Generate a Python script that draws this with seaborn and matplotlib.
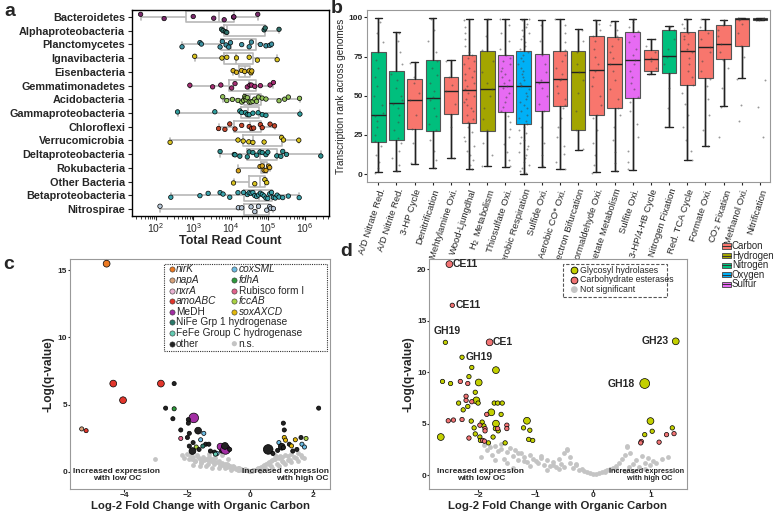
import numpy as np
import pandas as pd
import seaborn as sns
import matplotlib.pyplot as plt
from matplotlib.patches import Rectangle
from matplotlib.lines import Line2D

# ---------------- panel a : read counts per taxon (log10 of counts) -------------
a_taxa = ['Bacteroidetes', 'Alphaproteobacteria', 'Planctomycetes',
          'Ignavibacteria', 'Eisenbacteria', 'Gemmatimonadetes',
          'Acidobacteria', 'Gammaproteobacteria', 'Chloroflexi',
          'Verrucomicrobia', 'Deltaproteobacteria', 'Rokubacteria',
          'Other Bacteria', 'Betaproteobacteria', 'Nitrospirae']
a_colors = ['#7a2a6c', '#2f6f68', '#3e93a3', '#d8c21e', '#d8b21e',
            '#a42d72', '#93c35a', '#2f9c9c', '#c4452b', '#d8c21e',
            '#2e9191', '#d9a61f', '#d8c21e', '#3aa2ab', '#b9c9d9']
a_log_counts = [
    [1.59, 2.22, 3.0, 3.55, 3.83, 4.08, 4.09, 4.73],
    [3.76, 3.80, 3.86, 3.90, 4.90, 4.93, 5.30],
    [2.70, 3.18, 3.22, 3.72, 3.78, 3.88, 3.95, 4.0, 4.3, 4.5, 4.56, 4.8, 4.95, 5.05, 5.1],
    [3.04, 3.77, 3.9, 4.16, 4.5, 4.72, 5.25],
    [4.07, 4.16, 4.3, 4.38, 4.5, 4.55, 4.57],
    [2.91, 3.52, 3.74, 4.03, 4.12, 4.45, 4.52, 4.56, 4.65, 4.8, 5.06, 5.15],
    [3.79, 3.9, 4.05, 4.2, 4.3, 4.35, 4.38, 4.4, 4.42, 4.45, 4.5, 4.55,
     4.6, 4.65, 4.7, 4.75, 4.85, 4.95, 5.3, 5.45, 5.55, 5.85],
    [2.58, 3.58, 4.25, 4.3, 4.4, 4.45, 4.5, 4.6, 4.74, 4.85, 4.95, 5.86],
    [3.68, 3.85, 3.98, 4.12, 4.3, 4.5, 4.57, 4.62, 4.8, 4.85, 5.06, 5.18],
    [2.38, 4.2, 4.34, 4.49, 4.6, 4.9, 5.37, 5.42, 5.83],
    [3.72, 4.1, 4.12, 4.25, 4.45, 4.5, 4.6, 4.7, 4.79, 4.85, 4.95, 5.0,
     5.24, 5.35, 5.4, 5.5, 6.42],
    [4.21, 4.79, 4.85, 4.9, 4.95, 5.02, 5.05],
    [4.08, 4.65, 4.92, 4.97],
    [2.4, 3.18, 3.4, 3.72, 3.8, 3.98, 4.2, 4.35, 4.45, 4.5, 4.55, 4.6, 4.65,
     4.7, 4.75, 4.8, 4.85, 4.9, 4.95, 5.0, 5.05, 5.1, 5.15, 5.2, 5.25, 5.3,
     5.4, 5.55, 5.84],
    [2.11, 4.21, 4.3, 4.55, 4.65, 4.75, 4.97, 5.05, 5.08, 5.15],
]

# ---------------- panel b : transcription rank per pathway ----------------------
b_cats = ['A/D Nitrate Red.', 'A/D Nitrite Red.', '3-HP Cycle',
          'Denitrification', 'Mehtylamine Oxi.', 'Wood-Ljungdhal',
          'H$_2$ Metabolism', 'Thiosulfate Oxi.', 'Aerobic Respiration',
          'Sulfide Oxi.', 'Aerobic CO* Oxi.', 'Electron Bifurcation',
          'Formaldehyde Oxi.', 'Acetate Metabolism', 'Sulfite Oxi.',
          '3-HP/4-HB Cycle', 'Nitrogen Fixation', 'Red. TCA Cycle',
          'Formate Oxi.', 'CO$_2$ Fixation', 'Methanol Oxi.', 'Nitrification']
b_element = ['Nitrogen', 'Nitrogen', 'Carbon', 'Nitrogen', 'Carbon', 'Carbon',
             'Hydrogen', 'Sulfur', 'Oxygen', 'Sulfur', 'Carbon', 'Hydrogen',
             'Carbon', 'Carbon', 'Sulfur', 'Carbon', 'Nitrogen', 'Carbon',
             'Carbon', 'Carbon', 'Carbon', 'Nitrogen']
b_q1 = [20.8, 22.0, 28.8, 27.5, 38.1, 32.4, 27.5, 39.6, 32.2, 40.0, 43.4,
        28.0, 37.9, 42.0, 48.7, 66.1, 64.4, 56.8, 61.4, 73.5, 81.6, 98.1]
b_med = [37.7, 45.6, 47.2, 48.3, 53.0, 53.6, 54.4, 56.0, 56.0, 58.5, 61.0,
         65.0, 66.5, 70.1, 72.7, 73.3, 75.2, 78.4, 80.9, 83.0, 98.9, 98.7]
b_q3 = [78.0, 65.7, 61.0, 72.7, 61.9, 75.8, 78.8, 75.8, 78.8, 76.7, 78.8,
        78.8, 87.9, 87.5, 90.7, 79.0, 92.2, 90.5, 92.2, 95.1, 99.6, 99.4]
b_lo = [1.5, 2.3, 6.6, 4.2, 10.0, 3.0, 5.0, 4.7, 0.4, 4.7, 3.2, 15.7, 1.3,
        2.1, 2.8, 63.8, 30.0, 9.1, 18.0, 43.4, 61.2, 98.0]
b_hi = [99.6, 90.7, 71.4, 99.6, 72.5, 98.7, 99.2, 99.2, 99.2, 98.5, 99.2,
        92.4, 98.5, 97.5, 99.2, 86.2, 94.7, 99.2, 99.2, 98.5, 99.6, 99.6]
b_jitter = [
    [1, 4, 8, 12, 18, 21, 25, 30, 34, 37, 39, 44, 50, 56, 62, 68, 73, 78, 84, 90, 97],
    [2, 6, 10, 15, 20, 23, 28, 33, 38, 42, 45, 47, 50, 55, 60, 64, 70, 78, 85, 90],
    [7, 20, 29, 38, 47, 52, 58, 62, 71],
    [4, 9, 15, 22, 28, 32, 37, 42, 47, 49, 53, 58, 63, 68, 72, 78, 85, 92, 99],
    [10, 30, 38, 45, 53, 57, 62, 72],
    [3, 6, 9, 12, 15, 18, 21, 24, 27, 30, 33, 35, 38, 40, 42, 44, 46, 48, 50,
     52, 54, 56, 58, 60, 62, 64, 66, 68, 70, 72, 74, 76, 78, 82, 86, 90, 94, 98],
    [5, 12, 20, 28, 35, 42, 50, 54, 58, 65, 72, 79, 88, 99],
    [5, 9, 14, 19, 24, 29, 33, 37, 40, 43, 46, 49, 52, 55, 56, 58, 60, 62, 64,
     66, 68, 70, 72, 74, 76, 80, 85, 90, 95, 99],
    [0.5, 2, 4, 6, 8, 10, 12, 14, 16, 18, 20, 22, 24, 26, 28, 30, 32, 34, 36,
     38, 40, 42, 44, 46, 48, 50, 52, 54, 56, 57, 58, 60, 62, 64, 66, 68, 70,
     72, 74, 76, 78, 80, 82, 84, 86, 88, 90, 92, 94, 96, 98, 99],
    [5, 12, 20, 30, 40, 45, 50, 55, 58, 60, 65, 70, 76, 85, 95],
    [3, 8, 13, 18, 24, 30, 36, 42, 44, 48, 52, 56, 60, 61, 64, 68, 72, 76, 79,
     84, 90, 95, 99],
    [16, 28, 40, 52, 60, 65, 70, 78, 85, 92],
    [1, 6, 12, 20, 28, 36, 38, 44, 50, 56, 62, 66, 70, 75, 80, 85, 88, 92, 96, 98],
    [2, 7, 14, 22, 30, 38, 42, 48, 54, 60, 66, 70, 74, 78, 82, 86, 88, 92, 95, 97],
    [3, 8, 15, 24, 32, 40, 46, 49, 54, 58, 62, 66, 70, 73, 76, 80, 84, 88, 91,
     94, 97, 99],
    [64, 68, 72, 74, 78, 82, 86],
    [30, 42, 55, 64, 70, 75, 80, 86, 92, 94],
    [9, 15, 22, 30, 38, 45, 52, 57, 62, 66, 70, 74, 78, 80, 83, 86, 88, 90, 93, 96, 99],
    [18, 28, 38, 48, 56, 61, 66, 72, 78, 81, 86, 90, 94, 99],
    [24, 43, 55, 68, 73, 78, 83, 88, 92, 95, 98],
    [34, 44, 61, 75, 82, 90, 96, 98, 99, 99.5],
    [24, 43, 60, 98.2, 98.6, 98.9, 99.2, 99.5],
]
element_colors = {'Carbon': '#F8766D', 'Hydrogen': '#A3A500',
                  'Nitrogen': '#00BF7D', 'Oxygen': '#00B0F6', 'Sulfur': '#E76BF3'}

# ---------------- panel c : volcano of marker genes -----------------------------
c_gene = ['nirK', 'amoABC', 'amoABC', 'amoABC', 'napA', 'amoABC', 'other',
          'other', 'fdhA', 'other', 'MeDH', 'other', 'other', 'other', 'other',
          'other', 'Rubisco form I', 'other', 'other', 'other', 'coxSML',
          'coxSML', 'fccAB', 'other', 'other', 'other', 'other', 'other',
          'other', 'other', 'coxSML', 'MeDH', 'MeDH', 'other', 'other',
          'NiFe Grp 1 hydrogenase', 'FeFe Group C hydrogenase',
          'other', 'other', 'other', 'other', 'other', 'other', 'soxAXCD',
          'coxSML', 'other', 'other', 'soxAXCD', 'other', 'soxAXCD', 'other',
          'soxAXCD', 'other', 'other', 'coxSML', 'coxSML', 'fccAB', 'other']
c_lfc = [-4.55, -4.34, -2.83, -4.03, -5.34, -5.20, -2.41, -2.68, -2.41, -2.45,
         -1.79, -1.96, -1.96, -2.20, -1.93, -1.65, -2.20, -1.99, -1.93, -1.81,
         -1.47, -1.57, -1.71, -1.41, -1.31, -1.62, -1.83, -1.26, -1.13, -0.91,
         -1.05, -0.94, -0.78, -0.80, -0.65, -1.50, -1.10,
         0.57, 0.72, 0.87, 0.98, 1.05, 1.08, 1.08, 0.91, 1.00, 1.05, 1.12, 1.24,
         1.31, 1.35, 1.43, 1.48, 1.61, 1.64, 1.72, 1.77, 2.17]
c_q = [15.5, 6.56, 6.56, 5.32, 3.18, 3.05, 6.56, 4.73, 4.68, 3.94, 4.0, 3.87,
       3.61, 3.10, 2.85, 3.05, 2.47, 2.54, 1.90, 2.16, 2.85, 2.37, 1.83, 2.04,
       2.04, 1.65, 1.53, 1.53, 1.45, 1.53, 1.35, 1.86, 1.65, 1.91, 1.65, 1.90,
       1.30, 1.65, 1.35, 1.58, 1.91, 3.61, 3.10, 2.54, 2.16, 1.85, 1.78, 2.34,
       2.04, 1.91, 1.53, 2.37, 1.65, 2.54, 2.04, 1.83, 2.47, 4.73]
c_abund = [2, 2, 2, 2, 1, 1, 1, 1, 1, 1, 3, 1, 1, 1, 1, 2, 1, 1, 1, 1,
           1, 1, 1, 1, 1, 1, 2, 1, 1, 1, 1, 2, 3, 2, 1, 1, 1,
           3, 1, 1, 1, 1, 1, 1, 1, 2, 1, 1, 1, 1, 1, 1, 1, 1, 1, 1, 1, 1]
c_ns_lfc = [-3.02, -2.15, -2.1, -2.0, -1.95, -1.9, -1.85, -1.8, -1.75, -1.7,
            -1.65, -1.6, -1.55, -1.5, -1.45, -1.4, -1.35, -1.3, -1.25, -1.2,
            -1.15, -1.1, -1.05, -1.0, -0.95, -0.9, -0.85, -0.8, -0.75, -0.7,
            -0.65, -0.6, -0.55, -0.5, -0.45, -0.4, -0.35, -0.3, -0.25, -0.2,
            -0.15, -0.1, -0.05, 0.0, 0.05, 0.1, 0.15, 0.2, 0.25, 0.3, 0.35,
            0.4, 0.45, 0.5, 0.55, 0.6, 0.65, 0.7, 0.75, 0.8, 0.85, 0.9, 0.95,
            1.0, 1.1, 1.2, 1.3, 1.4, 1.5, 1.6, 1.7, -1.8, -1.6, -1.4, -1.2,
            -1.0, -0.8, -0.6, -0.4, 0.3, 0.5, 0.7, 0.9, 1.1, 1.3, 1.5, -1.1,
            -0.7, 0.6, 1.0, -1.3, -0.9, 0.8, 1.2,
            -1.75, -1.55, -1.35, -1.15, -0.95, -0.75, -0.55, -0.35, -0.15,
            0.1, 0.3, 0.45, 0.65, 0.85, 1.05, 1.25, 1.45, 1.65]
c_ns_q = [0.94, 1.25, 1.0, 1.3, 0.95, 1.2, 0.9, 1.1, 0.8, 1.25, 1.05, 0.95,
          0.7, 1.1, 0.85, 0.95, 0.6, 1.1, 0.75, 0.9, 0.55, 1.0, 0.7, 0.8, 0.45,
          0.65, 0.5, 0.6, 0.35, 0.5, 0.4, 0.3, 0.25, 0.35, 0.2, 0.28, 0.12,
          0.2, 0.1, 0.15, 0.08, 0.1, 0.05, 0.02, 0.06, 0.1, 0.15, 0.2, 0.25,
          0.3, 0.35, 0.42, 0.5, 0.55, 0.65, 0.7, 0.8, 0.85, 0.95, 0.9, 1.05,
          1.0, 1.15, 1.1, 1.25, 1.15, 1.3, 1.1, 1.35, 1.2, 1.0, 0.5, 0.45,
          0.4, 0.3, 0.3, 0.25, 0.15, 0.1, 0.05, 0.2, 0.3, 0.45, 0.55, 0.7,
          0.8, 1.25, 0.9, 0.6, 0.75, 1.3, 1.2, 1.2, 0.85,
          0.75, 0.65, 0.85, 0.7, 0.6, 0.55, 0.45, 0.3, 0.2,
          0.12, 0.1, 0.3, 0.45, 0.6, 0.7, 0.85, 1.0, 1.05]
gene_colors = {'nirK': '#ec7a23', 'napA': '#d7a27c', 'nxrA': '#e8b3d3',
               'amoABC': '#e2362c', 'MeDH': '#a22ea3',
               'NiFe Grp 1 hydrogenase': '#2b7a6b',
               'FeFe Group C hydrogenase': '#63cbb2', 'other': '#222222',
               'coxSML': '#6cbbe2', 'fdhA': '#2e9a3c',
               'Rubisco form I': '#e2628c', 'fccAB': '#a9d243',
               'soxAXCD': '#e4b90c', 'n.s.': '#c4c4c4'}

# ---------------- panel d : volcano of CAZymes ----------------------------------
d_labels = ['CE11', 'CE11', 'GH19', 'CE1', 'GH19', 'GH23', 'GH18']
d_lab_family = ['CE', 'CE', 'GH', 'CE', 'GH', 'GH', 'GH']
d_lab_lfc = [-2.50, -2.45, -2.57, -1.80, -2.28, 1.44, 0.90]
d_lab_q = [20.5, 16.5, 12.9, 12.9, 11.45, 13.0, 8.9]
d_lab_abund = [2, 1, 1, 2, 1, 2, 3]
d_gh_lfc = [-2.11, -1.69, -2.16, -2.62, -2.48, -1.99, -2.05, -2.03, -2.00, -2.34,
            -2.26, -2.18, -1.72, -1.66, -1.58, -1.77, -1.60, -2.12, -1.69, -1.15,
            -1.93, -1.90, -1.70, -1.65, -1.21, -2.65, -2.07, -2.05, -1.97, -1.96,
            -1.82, -1.53, -1.74, -1.10, -1.05, 1.00, 1.03, 0.90, 1.38, -1.12]
d_gh_q = [10.46, 10.2, 9.57, 9.1, 8.9, 9.0, 8.05, 7.26, 7.0, 7.0,
          6.34, 6.67, 7.0, 7.0, 7.0, 6.1, 5.9, 5.25, 5.0, 5.28,
          5.15, 4.78, 4.52, 4.3, 4.59, 3.7, 4.59, 4.0, 3.7, 3.37,
          3.13, 3.13, 3.7, 4.36, 3.37, 5.25, 4.26, 3.93, 4.59, 3.47]
d_gh_abund = [1, 2, 1, 1, 1, 2, 1, 2, 1, 1,
              1, 1, 1, 1, 1, 2, 1, 1, 2, 2,
              1, 1, 1, 1, 1, 2, 1, 1, 1, 1,
              1, 1, 1, 1, 1, 2, 1, 1, 1, 1]
d_ce_lfc = [-2.21, -2.21, -2.11, -2.31, -2.18, -1.85, -2.52, -2.43, -2.28, -1.97,
            -1.88, -1.88, -1.66, -1.50, -1.50, -2.16, -1.92, -1.89, 0.84, 0.83,
            1.15, 1.28, 1.41]
d_ce_q = [7.66, 7.26, 7.13, 9.1, 8.9, 5.9, 5.28, 5.35, 5.4, 4.85,
          4.52, 4.3, 4.52, 4.85, 4.52, 3.6, 3.37, 3.3, 3.27, 3.13,
          3.2, 3.93, 4.03]
d_ce_abund = [1, 1, 1, 1, 1, 1, 1, 1, 1, 1, 1, 1, 1, 1, 1, 1, 1, 1, 1, 1,
              1, 1, 1]
d_ns_lfc = [-1.95, -1.9, -1.85, -1.8, -1.75, -1.7, -1.65, -1.6, -1.55, -1.5,
            -1.45, -1.4, -1.35, -1.3, -1.25, -1.2, -1.15, -1.1, -1.05, -1.0,
            -0.95, -0.9, -0.85, -0.8, -0.75, -0.7, -0.65, -0.6, -0.55, -0.5,
            -0.45, -0.4, -0.35, -0.3, -0.25, -0.2, -0.15, -0.1, -0.05, 0.0,
            0.05, 0.1, 0.15, 0.2, 0.25, 0.3, 0.35, 0.4, 0.45, 0.5, 0.55, 0.6,
            0.65, 0.7, 0.75, 0.8, 0.85, 0.9, 0.95, 1.0, 1.05, 1.1, 1.2, 1.3,
            -1.7, -1.5, -1.3, -1.1, -0.9, -0.7, -0.5, -0.45, -0.4, -0.6, -0.3,
            0.55, 0.6, 0.62, 0.4, 0.2, -1.4, -1.2, -0.8, 0.7, 0.9, -1.6]
d_ns_q = [1.8, 2.9, 2.4, 2.7, 2.0, 2.8, 2.3, 2.5, 1.6, 2.2, 2.6, 1.9, 2.4, 1.5,
          2.1, 1.8, 1.3, 2.0, 1.6, 1.4, 1.2, 1.7, 1.0, 1.5, 0.9, 1.3, 0.8, 1.6,
          1.1, 2.1, 2.5, 1.2, 0.7, 1.0, 0.5, 0.6, 0.4, 0.3, 0.2, 0.1, 0.15, 0.2,
          0.3, 0.4, 0.5, 0.6, 0.7, 0.9, 1.2, 1.6, 2.0, 2.8, 2.1, 1.1, 1.5, 0.8,
          1.9, 1.2, 1.7, 1.0, 1.4, 1.2, 1.6, 1.8,
          1.5, 1.2, 2.1, 0.9, 1.9, 1.0, 0.8, 2.4, 1.8, 0.6, 1.1, 0.4, 2.75,
          0.8, 0.6, 0.3, 0.7, 1.4, 0.5, 0.4, 0.6, 3.0]

np.random.seed(7)
sns.set_style('ticks')
plt.rcParams['font.family'] = ['Liberation Sans', 'DejaVu Sans']
plt.rcParams['axes.linewidth'] = 0.8


def panel_a(fig):
    """Boxplots of total read count per taxon with the genome points."""
    ax = fig.add_axes([0.1697, 0.5806, 0.2532, 0.4])
    rows = [(t, 10 ** v) for t, vals in zip(a_taxa, a_log_counts) for v in vals]
    df = pd.DataFrame(rows, columns=['taxon', 'count'])
    sns.boxplot(data=df, x='count', y='taxon', order=a_taxa, log_scale=True,
                whis=(0, 100), fill=False, color='#b8b8b8', linewidth=1.2,
                width=0.8, showfliers=False, ax=ax)
    sns.stripplot(data=df, x='count', y='taxon', order=a_taxa, hue='taxon',
                  hue_order=a_taxa, palette=a_colors, jitter=0.22, size=3.2,
                  linewidth=0.5, edgecolor='black', legend=False, ax=ax)
    ax.set_xlim(10 ** 1.36, 10 ** 6.64)
    ax.set_ylim(14.5, -0.5)
    ax.set_ylabel('')
    ax.set_xlabel('Total Read Count', fontsize=9, fontweight='bold', labelpad=0)
    ax.tick_params(axis='y', labelsize=7.8, length=3, pad=2)
    ax.tick_params(axis='x', labelsize=7.5, length=3, pad=0.5)
    for lbl in ax.get_yticklabels():
        lbl.set_fontweight('bold')
    for s in ax.spines.values():
        s.set_color('black')
        s.set_linewidth(1.0)


def panel_b(fig):
    """Boxplots of transcription rank per metabolic pathway."""
    ax = fig.add_axes([0.4717, 0.6466, 0.518, 0.334])
    pos = list(range(len(b_cats)))
    stats = [{'q1': q1, 'med': m, 'q3': q3, 'whislo': lo, 'whishi': hi,
              'fliers': []}
             for q1, m, q3, lo, hi in zip(b_q1, b_med, b_q3, b_lo, b_hi)]
    ax.vlines(pos, b_lo, b_hi, color='#222222', linewidth=1.0, zorder=1)
    parts = ax.bxp(stats, positions=pos, widths=0.8, patch_artist=True,
                   manage_ticks=False, zorder=2,
                   boxprops={'edgecolor': '#555555', 'linewidth': 0.8},
                   medianprops={'color': '#222222', 'linewidth': 1.0},
                   whiskerprops={'color': '#222222', 'linewidth': 1.0},
                   capprops={'color': '#222222', 'linewidth': 1.0})
    for box, el in zip(parts['boxes'], b_element):
        box.set_facecolor(element_colors[el])
    rows = [(c, v) for c, vals in zip(b_cats, b_jitter) for v in vals]
    df = pd.DataFrame(rows, columns=['pathway', 'rank'])
    sns.stripplot(data=df, x='pathway', y='rank', order=b_cats, color='#444444',
                  size=1.4, alpha=0.55, jitter=0.3, zorder=3, ax=ax)
    ax.set_xlim(-0.62, 21.55)
    ax.set_ylim(-5, 104.7)
    ax.set_yticks([0, 25, 50, 75, 100])
    ax.set_xticks(pos)
    ax.set_xticklabels(b_cats, rotation=72, ha='right', rotation_mode='anchor',
                       fontsize=6.8)
    ax.set_xlabel('')
    ax.set_ylabel('Transcription rank across genomes', fontsize=7.2, labelpad=2)
    ax.tick_params(axis='y', labelsize=6, length=2, pad=1)
    ax.tick_params(axis='x', length=2, pad=2)
    for lbl in ax.get_yticklabels():
        lbl.set_fontweight('bold')
    for s in ax.spines.values():
        s.set_color('#999999')
    # element key below the panel
    for i, el in enumerate(element_colors):
        yc = 1 - (246 + i * 9.6) / 515
        fig.add_artist(Rectangle((722 / 778, yc - 2.6 / 515), 9 / 778, 5.2 / 515,
                                 facecolor=element_colors[el],
                                 edgecolor='#555555', linewidth=0.7))
        fig.add_artist(Line2D([722 / 778, 731 / 778], [yc, yc], color='#333333',
                              linewidth=0.7))
        fig.text(732 / 778, yc, el, fontsize=6.9, va='center')


def style_volcano(ax):
    ax.set_ylabel('-Log(q-value)', fontsize=8.6, fontweight='bold', labelpad=2)
    ax.set_xlabel('Log-2 Fold Change with Organic Carbon', fontsize=8.2,
                  fontweight='bold', va='top')
    ax.xaxis.set_label_coords(0.5, -0.052)
    ax.tick_params(labelsize=6, length=1.8, pad=0.2)
    for lbl in ax.get_xticklabels() + ax.get_yticklabels():
        lbl.set_fontweight('bold')
    for s in ax.spines.values():
        s.set_color('#999999')


def panel_c(fig):
    """Volcano plot of marker genes."""
    ax = fig.add_axes([0.09, 0.0505, 0.3342, 0.4466])
    ns = pd.DataFrame({'lfc': c_ns_lfc, 'q': c_ns_q})
    sns.scatterplot(data=ns, x='lfc', y='q', color=gene_colors['n.s.'], s=12,
                    linewidth=0, ax=ax)
    df = pd.DataFrame({'lfc': c_lfc, 'q': c_q, 'gene': c_gene,
                       'abund': c_abund})
    sns.scatterplot(data=df, x='lfc', y='q', hue='gene', palette=gene_colors,
                    size='abund', sizes={1: 9, 2: 24, 3: 48}, edgecolor='black',
                    linewidth=0.5, legend=False, zorder=3, ax=ax)
    ax.set_xlim(-5.71, 2.53)
    ax.set_ylim(-1.3, 15.85)
    ax.set_xticks([-4, -2, 0, 2])
    ax.set_yticks([0, 5, 10, 15])
    style_volcano(ax)
    ax.text(0.18, 0.04, 'Increased expression\nwith low OC', ha='center',
            transform=ax.transAxes, fontsize=6, fontweight='bold',
            linespacing=0.95)
    ax.text(0.995, 0.04, 'Increased expression\nwith high OC', ha='right',
            multialignment='right', transform=ax.transAxes, fontsize=6,
            fontweight='bold', linespacing=0.95)
    # legend box built by hand so the long entries can span both columns
    ax.add_patch(Rectangle((0.3615, 0.6), 0.627, 0.378, transform=ax.transAxes,
                           fill=False, linestyle=(0, (1, 1)), linewidth=0.8,
                           edgecolor='#333333', zorder=4))
    col1 = ['nirK', 'napA', 'nxrA', 'amoABC', 'MeDH', 'NiFe Grp 1 hydrogenase',
            'FeFe Group C hydrogenase', 'other']
    col2 = ['coxSML', 'fdhA', 'Rubisco form I', 'fccAB', 'soxAXCD', None,
            None, 'n.s.']
    italic = {'nirK', 'napA', 'nxrA', 'amoABC', 'coxSML', 'fdhA', 'fccAB',
              'soxAXCD'}
    for i, (g1, g2) in enumerate(zip(col1, col2)):
        yy = 1 - (269.5 + i * 10.6 - 259) / 230
        for g, xm in ((g1, 0.391), (g2, 0.632)):
            if g is None:
                continue
            ec = 'none' if g == 'n.s.' else '#333333'
            ax.scatter([xm], [yy], s=14, color=gene_colors[g], edgecolor=ec,
                       linewidth=0.4, transform=ax.transAxes, zorder=5)
            ax.text(xm + 0.016, yy, g, fontsize=7.3, va='center',
                    style='italic' if g in italic else 'normal',
                    transform=ax.transAxes, zorder=5)


def panel_d(fig):
    """Volcano plot of carbohydrate-active enzymes."""
    ax = fig.add_axes([0.5518, 0.0505, 0.3308, 0.4466])
    ns = pd.DataFrame({'lfc': d_ns_lfc, 'q': d_ns_q})
    sns.scatterplot(data=ns, x='lfc', y='q', color='#c4c4c4', s=12,
                    linewidth=0, ax=ax)
    df = pd.concat([
        pd.DataFrame({'lfc': d_gh_lfc, 'q': d_gh_q, 'fam': 'GH',
                      'abund': d_gh_abund}),
        pd.DataFrame({'lfc': d_ce_lfc, 'q': d_ce_q, 'fam': 'CE',
                      'abund': d_ce_abund}),
        pd.DataFrame({'lfc': d_lab_lfc, 'q': d_lab_q, 'fam': d_lab_family,
                      'abund': d_lab_abund})], ignore_index=True)
    sns.scatterplot(data=df, x='lfc', y='q', hue='fam',
                    palette={'GH': '#c3d000', 'CE': '#f27474'}, size='abund',
                    sizes={1: 10, 2: 24, 3: 50}, edgecolor='black',
                    linewidth=0.5, legend=False, zorder=3, ax=ax)
    offsets = [(0.06, 0, 'left'), (0.06, 0, 'left'), (0.04, 0.6, 'center'),
               (0.06, 0, 'left'), (0.06, 0, 'left'), (-0.13, 0, 'right'),
               (-0.18, 0, 'right')]
    for lab, x, y, (dx, dy, ha) in zip(d_labels, d_lab_lfc, d_lab_q, offsets):
        ax.text(x + dx, y + dy, lab, ha=ha, va='center' if dy == 0 else 'bottom',
                fontsize=7.5, fontweight='bold')
    ax.set_xlim(-2.85, 1.63)
    ax.set_ylim(-1.35, 21.0)
    ax.set_xticks([-2, -1, 0, 1])
    ax.set_yticks([0, 5, 10, 15, 20])
    style_volcano(ax)
    ax.text(0.2, 0.04, 'Increased expression\nwith low OC', ha='center',
            transform=ax.transAxes, fontsize=6, fontweight='bold',
            linespacing=0.95)
    ax.text(0.99, 0.04, 'Increased expression\n   with high OC', ha='right',
            multialignment='center', transform=ax.transAxes, fontsize=5.3,
            fontweight='bold', linespacing=0.95)
    ax.add_patch(Rectangle((0.52, 0.836), 0.404, 0.141, transform=ax.transAxes,
                           fill=False, linestyle=(0, (3, 1.5)), linewidth=0.8,
                           edgecolor='#555555', zorder=4))
    entries = [('Glycosyl hydrolases', '#c3d000', 'black'),
               ('Carbohydrate esterases', '#f27474', 'black'),
               ('Not significant', '#c4c4c4', 'none')]
    for yy, (lab, fc, ec) in zip([0.952, 0.909, 0.867], entries):
        ax.scatter([0.5635], [yy], s=24, color=fc, edgecolor=ec, linewidth=0.6,
                   transform=ax.transAxes, zorder=5)
        ax.text(0.585, yy, lab, fontsize=6.3, va='center', stretch='condensed',
                family=['Liberation Sans Narrow', 'Liberation Sans'],
                transform=ax.transAxes, zorder=5)


fig = plt.figure(figsize=(7.78, 5.15), dpi=100)
panel_a(fig)
panel_b(fig)
panel_c(fig)
panel_d(fig)
for lab, x, y in [('a', 4, 3), ('b', 331, 0), ('c', 3, 256), ('d', 340, 243)]:
    fig.text(x / 778, 1 - y / 515, lab, fontsize=14, fontweight='bold', va='top')
fig.savefig('out.png', dpi=100, facecolor='white')
